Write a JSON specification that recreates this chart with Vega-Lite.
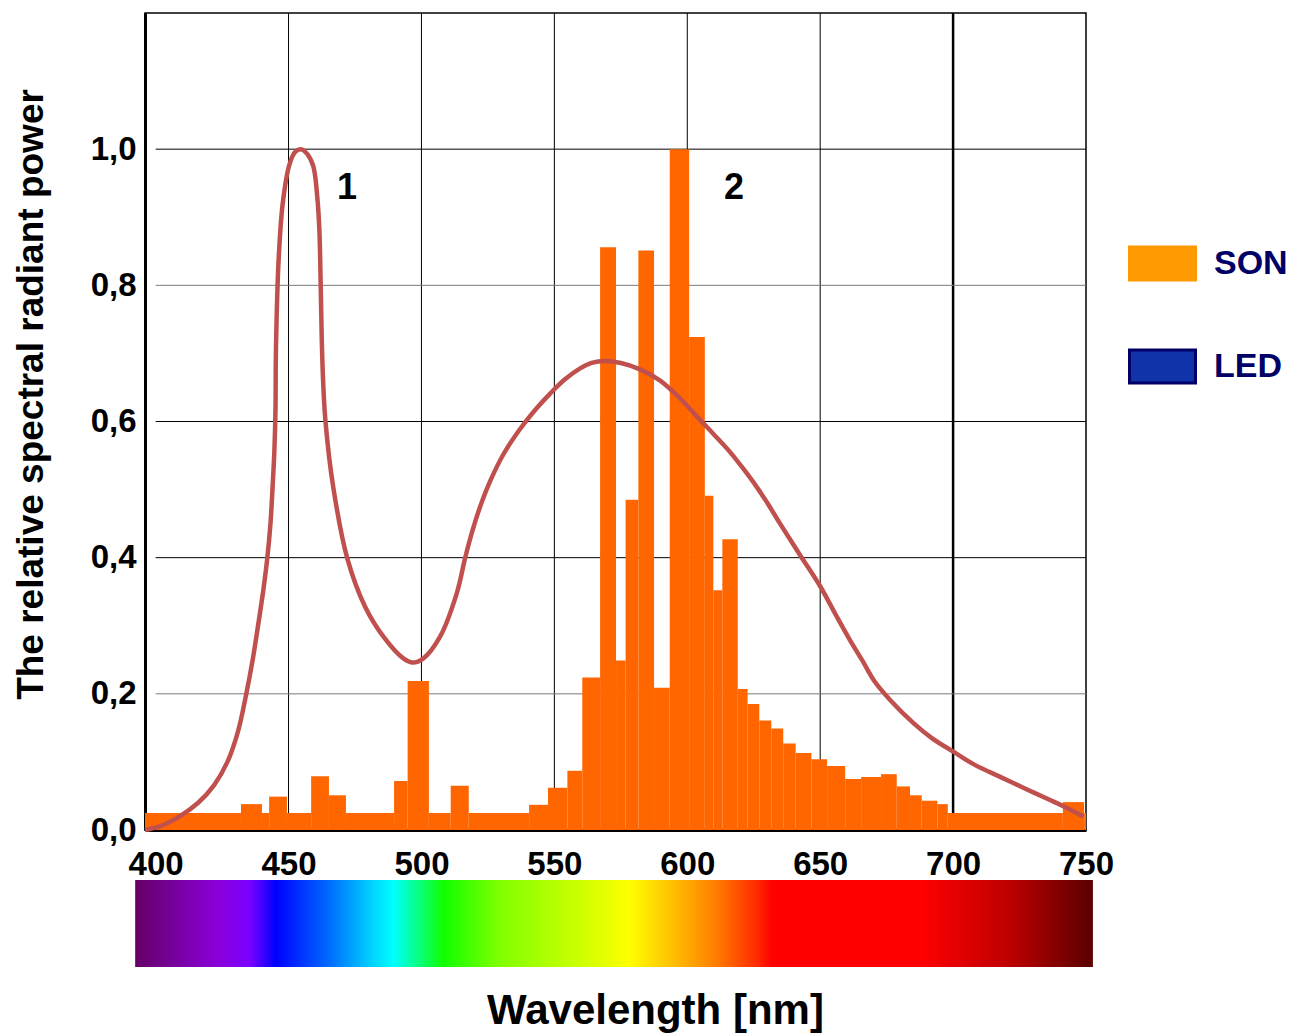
{
  "$schema": "https://vega.github.io/schema/vega-lite/v6.json",
  "width": 941,
  "height": 817,
  "autosize": {"type": "none"},
  "padding": {"left": 145, "top": 13, "right": 208, "bottom": 204},
  "background": "white",
  "config": {
    "font": "Liberation Sans",
    "view": {"stroke": "black", "strokeWidth": 1.5},
    "axis": {
      "labelFont": "Liberation Sans",
      "labelFontWeight": "bold",
      "labelFontSize": 33,
      "labelColor": "black",
      "titleFont": "Liberation Sans",
      "titleFontWeight": "bold",
      "titleColor": "black",
      "ticks": false,
      "grid": false,
      "domainColor": "black",
      "domainWidth": 3,
      "zindex": 1
    }
  },
  "layer": [
    {
      "data": {"values": [{"x": 392.3, "x2": 752.6, "y": -0.0734, "y2": -0.2012}]},
      "mark": {
        "type": "rect",
        "clip": false,
        "fill": {
          "gradient": "linear", "x1": 0, "x2": 1, "y1": 0, "y2": 0,
          "stops": [
            {"offset": 0, "color": "#650066"},
            {"offset": 0.085, "color": "#8A00D8"},
            {"offset": 0.12, "color": "#7A00FF"},
            {"offset": 0.147, "color": "#0000FF"},
            {"offset": 0.2, "color": "#0066FF"},
            {"offset": 0.25, "color": "#00D8FF"},
            {"offset": 0.27, "color": "#00FFFF"},
            {"offset": 0.322, "color": "#10FF00"},
            {"offset": 0.38, "color": "#80FF00"},
            {"offset": 0.5, "color": "#EEFF00"},
            {"offset": 0.515, "color": "#FFFF00"},
            {"offset": 0.555, "color": "#FFC800"},
            {"offset": 0.605, "color": "#FF8000"},
            {"offset": 0.65, "color": "#FF2800"},
            {"offset": 0.665, "color": "#FF0000"},
            {"offset": 0.82, "color": "#FF0000"},
            {"offset": 0.91, "color": "#C00000"},
            {"offset": 1, "color": "#5A0000"}
          ]
        }
      },
      "encoding": {
        "x": {"field": "x", "type": "quantitative"},
        "x2": {"field": "x2"},
        "y": {"field": "y", "type": "quantitative"},
        "y2": {"field": "y2"}
      }
    },
    {
      "data": {"values": [{"x": 450}, {"x": 500}, {"x": 550}, {"x": 600}, {"x": 650}, {"x": 700}]},
      "mark": {"type": "rule", "color": "black"},
      "encoding": {
        "x": {"field": "x", "type": "quantitative"},
        "strokeWidth": {"condition": {"test": "datum.x == 700", "value": 2.5}, "value": 1}
      }
    },
    {
      "data": {"values": [{"y": 0.2}, {"y": 0.4}, {"y": 0.6}, {"y": 0.8}, {"y": 1.0}]},
      "mark": {"type": "rule", "strokeWidth": 1},
      "encoding": {
        "x": {"datum": 400, "type": "quantitative"},
        "x2": {"datum": 750},
        "y": {"field": "y", "type": "quantitative"},
        "color": {"condition": {"test": "datum.y == 0.2 || datum.y == 0.8", "value": "#7a7a7a"}, "value": "black"}
      }
    },
    {
      "data": {"values": [
        {"x": 396, "x2": 432.1, "y": 0.025},
        {"x": 432.1, "x2": 440.0, "y": 0.038},
        {"x": 440.0, "x2": 442.7, "y": 0.025},
        {"x": 442.7, "x2": 449.4, "y": 0.049},
        {"x": 449.4, "x2": 458.5, "y": 0.025},
        {"x": 458.5, "x2": 465.2, "y": 0.079},
        {"x": 465.2, "x2": 471.6, "y": 0.051},
        {"x": 471.6, "x2": 489.7, "y": 0.025},
        {"x": 489.7, "x2": 494.8, "y": 0.072},
        {"x": 494.8, "x2": 502.8, "y": 0.219},
        {"x": 502.8, "x2": 511.0, "y": 0.025},
        {"x": 511.0, "x2": 517.8, "y": 0.065},
        {"x": 517.8, "x2": 540.5, "y": 0.025},
        {"x": 540.5, "x2": 547.6, "y": 0.037},
        {"x": 547.6, "x2": 554.9, "y": 0.062},
        {"x": 554.9, "x2": 560.5, "y": 0.087},
        {"x": 560.5, "x2": 567.2, "y": 0.224},
        {"x": 567.2, "x2": 573.2, "y": 0.856},
        {"x": 573.2, "x2": 576.8, "y": 0.249},
        {"x": 576.8, "x2": 581.6, "y": 0.485},
        {"x": 581.6, "x2": 587.5, "y": 0.851},
        {"x": 587.5, "x2": 593.4, "y": 0.209},
        {"x": 593.4, "x2": 600.7, "y": 1.0},
        {"x": 600.7, "x2": 606.6, "y": 0.724},
        {"x": 606.6, "x2": 609.8, "y": 0.491},
        {"x": 609.8, "x2": 613.2, "y": 0.352},
        {"x": 613.2, "x2": 619.0, "y": 0.427},
        {"x": 619.0, "x2": 622.7, "y": 0.207},
        {"x": 622.7, "x2": 627.1, "y": 0.185},
        {"x": 627.1, "x2": 631.6, "y": 0.161},
        {"x": 631.6, "x2": 636.1, "y": 0.149},
        {"x": 636.1, "x2": 640.8, "y": 0.127},
        {"x": 640.8, "x2": 646.7, "y": 0.113},
        {"x": 646.7, "x2": 652.6, "y": 0.104},
        {"x": 652.6, "x2": 659.4, "y": 0.094},
        {"x": 659.4, "x2": 665.4, "y": 0.075},
        {"x": 665.4, "x2": 672.9, "y": 0.078},
        {"x": 672.9, "x2": 678.8, "y": 0.082},
        {"x": 678.8, "x2": 683.8, "y": 0.064},
        {"x": 683.8, "x2": 688.2, "y": 0.051},
        {"x": 688.2, "x2": 694.1, "y": 0.043},
        {"x": 694.1, "x2": 698.0, "y": 0.038},
        {"x": 698.0, "x2": 741.3, "y": 0.025},
        {"x": 741.3, "x2": 749.3, "y": 0.041},
        {"x": 749.3, "x2": 750, "y": 0.025}
      ]},
      "mark": {"type": "rect", "fill": "#FF6600"},
      "encoding": {
        "x": {
          "field": "x", "type": "quantitative",
          "scale": {"domain": [396, 750], "nice": false, "zero": false},
          "axis": {
            "values": [400, 450, 500, 550, 600, 650, 700, 750],
            "labelPadding": 18,
            "labelFlush": false,
            "labelOverlap": false,
            "title": "Wavelength [nm]",
            "titleFontSize": 42,
            "titleX": 510,
            "titleY": 180,
            "titleAlign": "center",
            "titleBaseline": "middle"
          }
        },
        "x2": {"field": "x2"},
        "y": {
          "field": "y", "type": "quantitative",
          "scale": {"domain": [0, 1.2], "nice": false},
          "axis": {
            "values": [0, 0.2, 0.4, 0.6, 0.8, 1.0],
            "labelExpr": "replace(format(datum.value, '.1f'), '.', ',')",
            "labelPadding": 9,
            "title": "The relative spectral radiant power",
            "titleFontSize": 37,
            "titleX": -114,
            "titleY": 381,
            "titleAngle": 270,
            "titleAlign": "center",
            "titleBaseline": "middle"
          }
        },
        "y2": {"datum": 0}
      }
    },
    {
      "data": {"values": [
        {"i": 1, "x": 396, "y": 0.0},
        {"i": 2, "x": 402, "y": 0.006},
        {"i": 3, "x": 409, "y": 0.02},
        {"i": 4, "x": 416, "y": 0.04},
        {"i": 5, "x": 422, "y": 0.066},
        {"i": 6, "x": 427, "y": 0.1},
        {"i": 7, "x": 431, "y": 0.145},
        {"i": 8, "x": 434, "y": 0.198},
        {"i": 9, "x": 436.5, "y": 0.25},
        {"i": 10, "x": 438.6, "y": 0.302},
        {"i": 11, "x": 440.5, "y": 0.352},
        {"i": 12, "x": 442, "y": 0.399},
        {"i": 13, "x": 443.2, "y": 0.45},
        {"i": 14, "x": 444, "y": 0.504},
        {"i": 15, "x": 444.7, "y": 0.56},
        {"i": 16, "x": 445.1, "y": 0.62},
        {"i": 17, "x": 445.2, "y": 0.686},
        {"i": 18, "x": 445.5, "y": 0.75},
        {"i": 19, "x": 446.3, "y": 0.84},
        {"i": 20, "x": 447.8, "y": 0.92},
        {"i": 21, "x": 450.3, "y": 0.977},
        {"i": 22, "x": 452.5, "y": 0.996},
        {"i": 23, "x": 454.7, "y": 1.0},
        {"i": 24, "x": 457, "y": 0.993},
        {"i": 25, "x": 459.3, "y": 0.975},
        {"i": 26, "x": 460.8, "y": 0.93},
        {"i": 27, "x": 461.6, "y": 0.881},
        {"i": 28, "x": 462.1, "y": 0.8},
        {"i": 29, "x": 462.5, "y": 0.72},
        {"i": 30, "x": 463.0, "y": 0.66},
        {"i": 31, "x": 463.9, "y": 0.6},
        {"i": 32, "x": 466.8, "y": 0.504},
        {"i": 33, "x": 472.1, "y": 0.399},
        {"i": 34, "x": 478.8, "y": 0.328},
        {"i": 35, "x": 485.7, "y": 0.284},
        {"i": 36, "x": 493.2, "y": 0.252},
        {"i": 37, "x": 496.7, "y": 0.246},
        {"i": 38, "x": 500.7, "y": 0.252},
        {"i": 39, "x": 507, "y": 0.284},
        {"i": 40, "x": 513.3, "y": 0.348},
        {"i": 41, "x": 516.4, "y": 0.399},
        {"i": 42, "x": 519, "y": 0.437},
        {"i": 43, "x": 522, "y": 0.474},
        {"i": 44, "x": 525.8, "y": 0.512},
        {"i": 45, "x": 531, "y": 0.553},
        {"i": 46, "x": 537.1, "y": 0.589},
        {"i": 47, "x": 543, "y": 0.618},
        {"i": 48, "x": 548.4, "y": 0.641},
        {"i": 49, "x": 554, "y": 0.662},
        {"i": 50, "x": 559.7, "y": 0.678},
        {"i": 51, "x": 564, "y": 0.686},
        {"i": 52, "x": 569.1, "y": 0.689},
        {"i": 53, "x": 575, "y": 0.686},
        {"i": 54, "x": 582, "y": 0.677},
        {"i": 55, "x": 589.8, "y": 0.66},
        {"i": 56, "x": 597, "y": 0.635},
        {"i": 57, "x": 604.2, "y": 0.605},
        {"i": 58, "x": 610, "y": 0.581},
        {"i": 59, "x": 616.1, "y": 0.555},
        {"i": 60, "x": 621, "y": 0.531},
        {"i": 61, "x": 626.1, "y": 0.504},
        {"i": 62, "x": 630.5, "y": 0.478},
        {"i": 63, "x": 634.9, "y": 0.45},
        {"i": 64, "x": 642.4, "y": 0.404},
        {"i": 65, "x": 650, "y": 0.358},
        {"i": 66, "x": 655.6, "y": 0.318},
        {"i": 67, "x": 661.2, "y": 0.279},
        {"i": 68, "x": 666, "y": 0.248},
        {"i": 69, "x": 670.5, "y": 0.218},
        {"i": 70, "x": 676.3, "y": 0.191},
        {"i": 71, "x": 685.1, "y": 0.157},
        {"i": 72, "x": 692, "y": 0.135},
        {"i": 73, "x": 700.1, "y": 0.115},
        {"i": 74, "x": 708, "y": 0.096},
        {"i": 75, "x": 717.7, "y": 0.078},
        {"i": 76, "x": 727, "y": 0.061},
        {"i": 77, "x": 736.5, "y": 0.044},
        {"i": 78, "x": 743, "y": 0.032},
        {"i": 79, "x": 749, "y": 0.02}
      ]},
      "mark": {"type": "line", "color": "#C0504D", "strokeWidth": 4.5, "interpolate": "catmull-rom"},
      "encoding": {
        "x": {"field": "x", "type": "quantitative"},
        "y": {"field": "y", "type": "quantitative"},
        "order": {"field": "i", "type": "quantitative"}
      }
    },
    {
      "data": {"values": [{"x": 472, "y": 0.943, "label": "1"}, {"x": 617.6, "y": 0.943, "label": "2"}]},
      "mark": {"type": "text", "font": "Liberation Sans", "fontSize": 36, "fontWeight": "bold", "color": "black", "align": "center", "baseline": "middle"},
      "encoding": {
        "x": {"field": "x", "type": "quantitative"},
        "y": {"field": "y", "type": "quantitative"},
        "text": {"field": "label"}
      }
    },
    {
      "data": {"values": [{"series": "SON"}, {"series": "LED"}]},
      "mark": {"type": "rect", "strokeWidth": 3},
      "encoding": {
        "x": {"datum": 396, "type": "quantitative"},
        "x2": {"datum": 396},
        "y": {"datum": 0, "type": "quantitative"},
        "y2": {"datum": 0},
        "fill": {
          "field": "series", "type": "nominal",
          "scale": {"domain": ["SON", "LED"], "range": ["#FF9900", "#1133AA"]},
          "legend": {
            "orient": "none", "legendX": 983, "legendY": 216, "title": null, "padding": 0,
            "symbolType": "M-1,-0.5H1V0.5H-1Z", "symbolSize": 4356, "symbolStrokeWidth": 3,
            "labelFont": "Liberation Sans", "labelFontSize": 34, "labelFontWeight": "bold",
            "labelColor": "#000066", "labelOffset": 17, "rowPadding": 46
          }
        },
        "stroke": {
          "field": "series", "type": "nominal",
          "scale": {"domain": ["SON", "LED"], "range": ["#FF9900", "#000066"]},
          "legend": {
            "orient": "none", "legendX": 983, "legendY": 216, "title": null, "padding": 0,
            "symbolType": "M-1,-0.5H1V0.5H-1Z", "symbolSize": 4356, "symbolStrokeWidth": 3,
            "labelFont": "Liberation Sans", "labelFontSize": 34, "labelFontWeight": "bold",
            "labelColor": "#000066", "labelOffset": 17, "rowPadding": 46
          }
        }
      }
    }
  ]
}
